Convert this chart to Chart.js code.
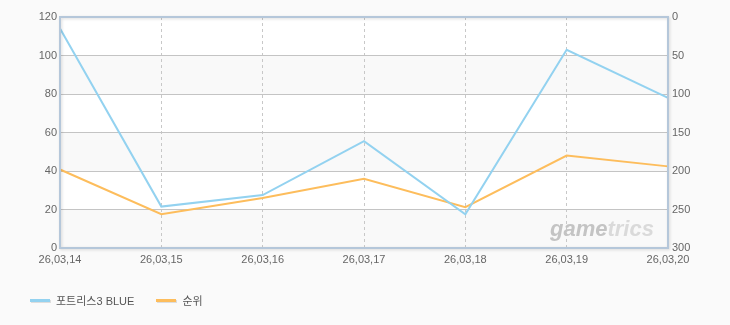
<!DOCTYPE html>
<html>
<head>
<meta charset="utf-8">
<script src="https://cdn.jsdelivr.net/npm/chart.js@4/dist/chart.umd.min.js"></script>
<style>
    body { margin: 0; background: #fafafa; }
    #wrap { position: relative; width: 730px; height: 325px; background: #fafafa; }
    #legend-1 { position: absolute; left: 30px; top: 292px; font: 11px 'Liberation Sans', 'Noto Sans CJK KR', sans-serif; color: #555; }
</style>
</head>
<body>
<div id="wrap">
    <canvas id="chart-1"></canvas>
    <div id="legend-1"></div>
</div>
<script>
const labels = ['26,03,14', '26,03,15', '26,03,16', '26,03,17', '26,03,18', '26,03,19', '26,03,20']
const playerData = [114, 21.5, 27.5, 55.5, 17.5, 103, 78]
const rankData = [198, 256, 235, 210, 247, 180, 194]
const seriesNames = ['포트리스3 BLUE', '순위']
const seriesColors = ['#93d2f0', '#fdbd5c']

const tickFont = { family: "'Liberation Sans', sans-serif", size: 11 }

// ////////////////////////////HTML Legend Plugin
const htmlLegendPlugin = {
    id: 'htmlLegend',
    afterUpdate(chart, args, options) {
        const box = document.getElementById(options.containerID);
        box.innerHTML = '';
        box.style.display = 'flex';
        chart.data.datasets.forEach(ds => {
            const item = document.createElement('div');
            item.style.display = 'flex';
            item.style.alignItems = 'center';
            item.style.marginRight = '22px';
            const swatch = document.createElement('span');
            swatch.style.display = 'inline-block';
            swatch.style.width = '20px';
            swatch.style.height = '3px';
            swatch.style.background = ds.borderColor;
            swatch.style.boxShadow = '1px 1px 0 #ddd';
            swatch.style.marginRight = '6px';
            const txt = document.createElement('span');
            txt.textContent = ds.label;
            item.appendChild(swatch);
            item.appendChild(txt);
            box.appendChild(item);
        });
    }
};

// bands, border and watermark
const plotDeco = {
    id: 'plotDeco',
    beforeDraw(chart) {
        const { ctx, chartArea: a } = chart;
        const y = chart.scales.y;
        ctx.save();
        ctx.fillStyle = '#ffffff';
        ctx.fillRect(a.left, a.top, a.right - a.left, a.bottom - a.top);
        for (let v = 0; v < 120; v += 40) {
            ctx.fillStyle = '#f9f9f9';
            const top = y.getPixelForValue(v + 20), bot = y.getPixelForValue(v);
            ctx.fillRect(a.left, top, a.right - a.left, bot - top);
        }
        ctx.restore();
    },
    beforeDatasetsDraw(chart) {
        const { ctx } = chart;
        ctx.save();
        ctx.font = "italic bold 22px 'Liberation Sans', sans-serif";
        ctx.textBaseline = 'alphabetic';
        ctx.fillStyle = '#c4c4c4';
        ctx.fillText('game', 550, 236);
        const w = ctx.measureText('game').width;
        ctx.fillStyle = '#dadada';
        ctx.fillText('trics', 550 + w, 236);
        ctx.restore();
    },
    afterDraw(chart) {
        const { ctx, chartArea: a } = chart;
        ctx.save();
        ctx.shadowColor = 'rgba(0,0,0,0.15)';
        ctx.shadowBlur = 3;
        ctx.shadowOffsetX = 1;
        ctx.shadowOffsetY = 1;
        ctx.strokeStyle = '#b5c7da';
        ctx.lineWidth = 2;
        ctx.strokeRect(a.left, a.top, a.right - a.left, a.bottom - a.top);
        ctx.restore();
    }
};

const ctx1 = document.getElementById('chart-1');

new Chart(ctx1, {
    type: 'line',
    data: {
        labels: labels,
        datasets: [{
            label: seriesNames[0],
            data: playerData,
            borderColor: seriesColors[0],
            borderWidth: 2,
            pointRadius: 0,
            tension: 0,
            yAxisID: 'y'
        }, {
            label: seriesNames[1],
            data: rankData,
            borderColor: seriesColors[1],
            borderWidth: 2,
            pointRadius: 0,
            tension: 0,
            yAxisID: 'y2'
        }]
    },
    options: {
        responsive: true,
        maintainAspectRatio: false,
        animation: false,
        layout: { padding: { top: 17, bottom: 47, left: 0, right: 0 } },
        plugins: {
            legend: { display: false },
            tooltip: { enabled: false },
            htmlLegend: { containerID: 'legend-1' }
        },
        scales: {
            x: {
                offset: false,
                grid: { color: '#c8c8c8', drawTicks: false },
                border: { display: false, dash: [3, 3] },
                ticks: { color: '#666', font: tickFont, padding: 5, maxRotation: 0, autoSkip: false },
                afterFit: s => { s.height = 30; }
            },
            y: {
                position: 'left',
                min: 0, max: 120,
                ticks: { stepSize: 20, color: '#666', font: tickFont, padding: 3 },
                grid: { color: '#c4c4c4', drawTicks: false },
                border: { display: false },
                afterFit: s => { s.width = 60; }
            },
            y2: {
                position: 'right',
                reverse: true,
                min: 0, max: 300,
                ticks: { stepSize: 50, color: '#666', font: tickFont, padding: 4 },
                grid: { drawOnChartArea: false, drawTicks: false },
                border: { display: false },
                afterFit: s => { s.width = 62; }
            }
        }
    },
    plugins: [htmlLegendPlugin, plotDeco]
});
</script>
</body>
</html>
